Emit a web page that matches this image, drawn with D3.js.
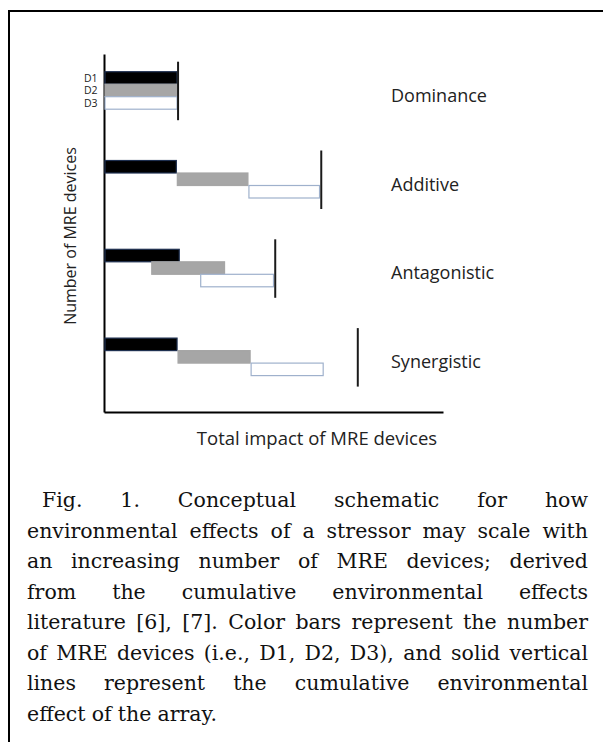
<!DOCTYPE html>
<html>
<head>
<meta charset="utf-8">
<script src="https://cdn.jsdelivr.net/npm/d3@7"></script>
<style>
  html, body { margin: 0; padding: 0; background: #fff; }
  svg { display: block; }
</style>
</head>
<body>
<svg id="chart" width="603" height="742"></svg>
<script>
// ---- data ----
const scenarios = ["Dominance", "Additive", "Antagonistic", "Synergistic"];
const devices = ["D1", "D2", "D3"];
const d1Start = [0, 0, 0, 0];
const d1End   = [1, 0.99, 1.03, 1];
const d2Start = [0, 0.99, 0.64, 1];
const d2End   = [1, 1.97, 1.65, 2];
const d3Start = [0, 1.97, 1.31, 2];
const d3End   = [1, 2.95, 2.32, 3];
const cumulative = [1, 2.96, 2.33, 3.46];
const xAxisTitle = "Total impact of MRE devices";
const yAxisTitle = "Number of MRE devices";
const captionLines = [
  "Fig. 1. Conceptual schematic for how",
  "environmental effects of a stressor may scale with",
  "an increasing number of MRE devices; derived",
  "from the cumulative environmental effects",
  "literature [6], [7]. Color bars represent the number",
  "of MRE devices (i.e., D1, D2, D3), and solid vertical",
  "lines represent the cumulative environmental",
  "effect of the array."
];

// ---- build table ----
const starts = [d1Start, d2Start, d3Start];
const ends = [d1End, d2End, d3End];
const bars = [];
scenarios.forEach((s, i) => {
  devices.forEach((d, j) => {
    bars.push({ scenario: s, device: d, x0: starts[j][i], x1: ends[j][i] });
  });
});

const svg = d3.select("#chart");
const sans = "'Open Sans', 'Noto Sans', sans-serif";
const serif = "'DejaVu Serif', serif";

// frame
svg.append("path").attr("d", "M9,742 V11 H603")
  .attr("fill", "none").attr("stroke", "#000").attr("stroke-width", 2);

// scales
const x = d3.scaleLinear().domain([0, 4.64]).range([104, 443]);
const y = d3.scaleBand().domain(scenarios).range([71.7, 426.9]).padding(0);
const yDev = d3.scaleBand().domain(devices).range([0, 37.5]).padding(0);

const plotTop = 54, plotBottom = 412;

// axes (no ticks)
const gx = svg.append("g").attr("transform", `translate(0,${plotBottom})`)
  .call(d3.axisBottom(x).tickValues([]).tickSizeOuter(0));
gx.select(".domain").attr("stroke", "#000").attr("stroke-width", 2);
const yLine = d3.scaleLinear().domain([0, 1]).range([plotBottom, plotTop]);
const gy = svg.append("g").attr("transform", `translate(${x(0)},0)`)
  .call(d3.axisLeft(yLine).tickValues([]).tickSizeOuter(0));
gy.select(".domain").attr("stroke", "#000").attr("stroke-width", 2);

// bars
const fill = d3.scaleOrdinal().domain(devices).range(["#000000", "#a6a6a6", "#ffffff"]);
const stroke = d3.scaleOrdinal().domain(devices).range(["#1f3050", "#a6a6a6", "#9fb1cc"]);
svg.append("g").selectAll("rect").data(bars).join("rect")
  .attr("x", d => x(d.x0) + 1)
  .attr("y", d => y(d.scenario) + yDev(d.device))
  .attr("width", d => x(d.x1) - x(d.x0) - 1)
  .attr("height", yDev.bandwidth())
  .attr("fill", d => fill(d.device))
  .attr("stroke", d => stroke(d.device))
  .attr("stroke-width", 1.2);

// cumulative lines
svg.append("g").selectAll("line").data(scenarios).join("line")
  .attr("x1", (s, i) => x(cumulative[i]) + 1)
  .attr("x2", (s, i) => x(cumulative[i]) + 1)
  .attr("y1", s => y(s) - 10)
  .attr("y2", s => y(s) + 37.5 + 11)
  .attr("stroke", "#1a1a1a").attr("stroke-width", 2);

// device labels (first scenario)
svg.append("g").selectAll("text").data(devices).join("text")
  .attr("x", 97.5)
  .attr("y", d => y(scenarios[0]) + yDev(d) + yDev.bandwidth() / 2)
  .attr("dy", "0.36em")
  .attr("text-anchor", "end")
  .attr("font-family", sans).attr("font-size", 10.5).attr("fill", "#222")
  .text(d => d);

// scenario labels
svg.append("g").selectAll("text").data(scenarios).join("text")
  .attr("x", 391)
  .attr("y", s => y(s) + 30)
  .attr("font-family", sans).attr("font-size", 18).attr("fill", "#222")
  .text(s => s);

// axis titles
svg.append("text")
  .attr("transform", `translate(76,236) rotate(-90)`)
  .attr("text-anchor", "middle")
  .attr("font-family", sans).attr("font-size", 16).attr("fill", "#222")
  .text(yAxisTitle);
svg.append("text")
  .attr("x", 317).attr("y", 445)
  .attr("text-anchor", "middle")
  .attr("font-family", sans).attr("font-size", 18.5).attr("fill", "#222")
  .text(xAxisTitle);

// caption (justified)
const capLeft = 27, capRight = 588, capIndent = 15, capFirst = 507, capStep = 30.5;
const capSize = 20.5;
captionLines.forEach((line, li) => {
  const words = line.split(" ");
  const t = svg.append("text")
    .attr("font-family", serif).attr("font-size", capSize).attr("fill", "#111")
    .attr("y", capFirst + li * capStep);
  const spans = words.map(w => t.append("tspan").text(w));
  const widths = spans.map(s => s.node().getComputedTextLength());
  const left = capLeft + (li === 0 ? capIndent : 0);
  const total = d3.sum(widths);
  const last = li === captionLines.length - 1;
  const spaceW = capSize * 0.3;
  const gap = last ? spaceW : (capRight - left - total) / (words.length - 1);
  let cx = left;
  spans.forEach((s, k) => { s.attr("x", cx); cx += widths[k] + gap; });
});
</script>
</body>
</html>
